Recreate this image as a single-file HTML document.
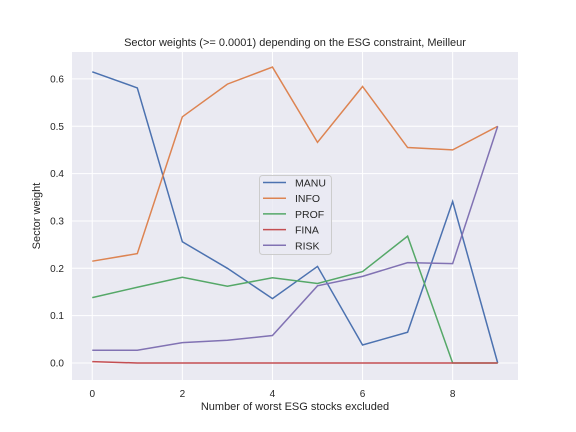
<!DOCTYPE html>
<html><head><meta charset="utf-8"><style>
html,body{margin:0;padding:0;background:#fff;}
svg{display:block;font-family:"Liberation Sans",sans-serif;}
</style></head><body>
<svg id="chart" width="576" height="432">
<rect x="72" y="52" width="446" height="328" fill="#EAEAF2"/>
<g id="grid"></g><g id="lines"></g><g id="ticks"></g>
<text x="295" y="46" text-anchor="middle" font-size="11" fill="#262626">Sector weights (&gt;= 0.0001) depending on the ESG constraint, Meilleur</text>
<text x="295" y="410" text-anchor="middle" font-size="11" fill="#262626">Number of worst ESG stocks excluded</text>
<text transform="translate(40,216) rotate(-90)" text-anchor="middle" font-size="11" fill="#262626">Sector weight</text>
<g id="legend"></g>
</svg>
<script>
const xs=[0,1,2,3,4,5,6,7,8,9];
const manu=[0.615,0.581,0.256,0.200,0.136,0.204,0.038,0.065,0.341,0.0];
const info=[0.215,0.231,0.520,0.589,0.625,0.466,0.584,0.455,0.450,0.500];
const prof=[0.138,0.160,0.181,0.162,0.180,0.168,0.193,0.268,0.0,0.0];
const fina=[0.003,0.0,0.0,0.0,0.0,0.0,0.0,0.0,0.0,0.0];
const risk=[0.027,0.027,0.043,0.048,0.058,0.163,0.183,0.212,0.210,0.500];
const xTicks=[0,2,4,6,8];
const yTicks=[0.0,0.1,0.2,0.3,0.4,0.5,0.6];
const names=["MANU","INFO","PROF","FINA","RISK"];
const series=[manu,info,prof,fina,risk];
const colors=["#4C72B0","#DD8452","#55A868","#C44E52","#8172B3"];
const NS="http://www.w3.org/2000/svg";
const X=v=>92.25+v*45.05, Y=v=>363-v*473.5;
function mk(t,a,p){const e=document.createElementNS(NS,t);for(const k in a)e.setAttribute(k,a[k]);p.appendChild(e);return e;}
const grid=document.getElementById('grid'),tk=document.getElementById('ticks'),ln=document.getElementById('lines'),lg=document.getElementById('legend');
xTicks.forEach(v=>{
 const g=mk('line',{x1:X(v),x2:X(v),y1:52,y2:380,stroke:'#fff','stroke-width':1},grid);
 
 
 const t=mk('text',{x:X(v),y:397,'text-anchor':'middle','font-size':10,fill:'#262626'},tk);t.textContent=v;
 
 
});
yTicks.forEach(v=>{
 const g=mk('line',{x1:72,x2:518,y1:Y(v),y2:Y(v),stroke:'#fff','stroke-width':1},grid);
 
 
 const t=mk('text',{x:64,y:Y(v)+3.5,'text-anchor':'end','font-size':10,fill:'#262626'},tk);t.textContent=v.toFixed(1);
 
 
});
series.forEach((s,i)=>{
 const p=mk('polyline',{points:s.map((v,j)=>X(xs[j])+','+Y(v)).join(' '),fill:'none',stroke:colors[i],'stroke-width':1.5},ln);
 
 
});
const box=mk('rect',{x:259.5,y:175.5,width:72,height:79,rx:3,fill:'#EAEAF2','fill-opacity':0.8,stroke:'#ccc'},lg);


names.forEach((n,i)=>{
 const y=182.5+i*15.7;
 const l=mk('line',{x1:263,x2:286,y1:y,y2:y,stroke:colors[i],'stroke-width':1.5},lg);
 
 
 const t=mk('text',{x:295,y:y+4,'font-size':10.5,fill:'#262626'},lg);t.textContent=n;
 
 
});
</script>
</body></html>
